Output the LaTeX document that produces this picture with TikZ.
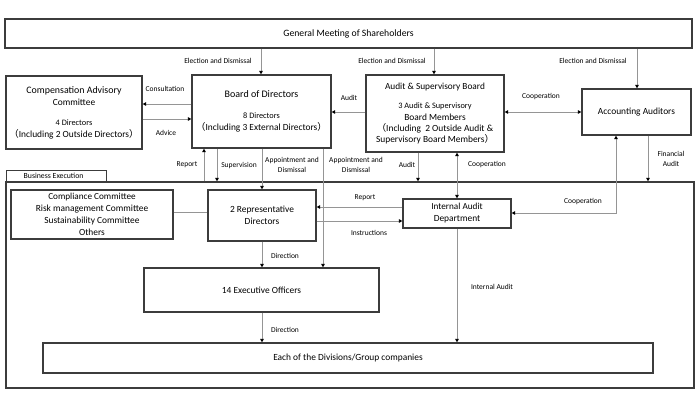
\documentclass[tikz,border=0pt]{standalone}
\usepackage{fontspec}
\setmainfont{Carlito}
\newfontfamily\cjkfont{Noto Sans CJK JP}
\usetikzlibrary{arrows.meta}
\definecolor{boxgray}{HTML}{3C3C3C}
\definecolor{linegray}{HTML}{959595}
\newcommand\lpar{\smash{\cjkfont （}}
\newcommand\rpar{\smash{\cjkfont ）}}
\newcommand\titlefnt{\fontsize{9.4}{12}\selectfont}
\newcommand\subfnt{\fontsize{8.3}{11}\selectfont}
\tikzset{
  >={Triangle[length=3.6pt,width=3.6pt,black]},
  box/.style={draw=boxgray, line width=1.2pt, inner sep=0pt, align=center, font=\titlefnt},
  conn/.style={draw=linegray, line width=1pt, ->},
  conn2/.style={draw=linegray, line width=1pt, <->},
  plain/.style={draw=linegray, line width=1pt},
  lbl/.style={font=\fontsize{7.5}{9.5}\selectfont, inner sep=0pt, align=center},
}
\begin{document}
\begin{tikzpicture}[x=1pt,y=-1pt]
\useasboundingbox (0,0) rectangle (700,405);
% frame
\node[box, minimum width=688pt, minimum height=206pt] (be) at (350,285) {};
\node[box, minimum width=100pt, minimum height=11pt, anchor=south west, font=\fontsize{7.8}{9}\selectfont] (tab) at (6,182) {\hspace*{-6pt}Business Execution};
% boxes
\node[box, minimum width=687pt, minimum height=29pt, font=\fontsize{9.7}{11}\selectfont] (gm) at (348.5,33.5) {General Meeting of Shareholders};
\node[box, minimum width=136pt, minimum height=73pt] (comp) at (74,112.5)
  {\fontsize{9.9}{12}\selectfont Compensation Advisory\\Committee\\[8pt]\fontsize{8.3}{12}\selectfont 4 Directors\\\lpar Including 2 Outside Directors\rpar};
\node[box, minimum width=139pt, minimum height=73pt] (bod) at (261.5,111.5)
  {\fontsize{10}{11}\selectfont Board of Directors\\[9pt]\subfnt 8 Directors\\\lpar Including 3 External Directors\rpar};
\node[box, minimum width=138pt, minimum height=77pt] (asb) at (435,113.5)
  {\fontsize{9.3}{10}\selectfont Audit \& Supervisory Board\\[7pt]\fontsize{8.3}{10}\selectfont 3 Audit \& Supervisory\\Board Members\\[-1pt]\lpar Including\ \ 2 Outside Audit \&\\[-1pt]Supervisory Board Members\rpar};
\node[box, minimum width=109pt, minimum height=46pt] (aa) at (636.5,112) {Accounting Auditors};
\node[box, minimum width=162pt, minimum height=49pt] (comm) at (92,214.5)
  {\fontsize{9.2}{11.3}\selectfont Compliance Committee\\Risk management Committee\\Sustainability Committee\\Others};
\node[box, minimum width=108pt, minimum height=51pt] (rep) at (262,215.5) {2 Representative\\Directors};
\node[box, minimum width=108pt, minimum height=29pt] (iad) at (457,213.5) {\fontsize{9.2}{13.5}\selectfont Internal Audit\\Department};
\node[box, minimum width=235pt, minimum height=44pt] (eo) at (261.5,290) {14 Executive Officers};
\node[box, minimum width=610pt, minimum height=30pt] (div) at (348,358) {Each of the Divisions/Group companies};
% connectors
\draw[conn] (gm.south -| 261,0) -- (bod.north -| 261,0);
\draw[conn] (gm.south -| 434,0) -- (asb.north -| 434,0);
\draw[conn] (gm.south -| 637,0) -- (aa.north -| 637,0);
\draw[conn] (bod.west |- 0,104) -- (comp.east |- 0,104);
\draw[conn] (comp.east |- 0,119) -- (bod.west |- 0,119);
\draw[conn] (asb.west |- 0,112) -- (bod.east |- 0,112);
\draw[conn2] (asb.east |- 0,112) -- (aa.west |- 0,112);
\draw[conn] (be.north -| 204,0) -- (bod.south -| 204,0);
\draw[conn] (bod.south -| 217,0) -- (be.north -| 217,0);
\draw[conn] (bod.south -| 262,0) -- (rep.north -| 262,0);
\draw[conn] (bod.south -| 323,0) -- (eo.north -| 323,0);
\draw[conn] (asb.south -| 418,0) -- (be.north -| 418,0);
\draw[conn2] (asb.south -| 457,0) -- (iad.north -| 457,0);
\draw[conn] (aa.south -| 648,0) -- (be.north -| 648,0);
\draw[conn2] (iad.east |- 0,213) -- (616,213) -- (aa.south -| 616,0);
\draw[conn] (iad.west |- 0,207) -- (rep.east |- 0,207);
\draw[conn] (rep.east |- 0,221) -- (iad.west |- 0,221);
\draw[plain] (comm.east |- 0,212) -- (rep.west |- 0,212);
\draw[conn] (rep.south -| 262,0) -- (eo.north -| 262,0);
\draw[conn] (eo.south -| 262,0) -- (div.north -| 262,0);
\draw[conn] (iad.south -| 457,0) -- (div.north -| 457,0);
% labels
\node[lbl] (l1) at (218,61) {Election and Dismissal};
\node[lbl] (l2) at (392,61) {Election and Dismissal};
\node[lbl] (l3) at (593,61) {Election and Dismissal};
\node[lbl] (l4) at (165,89) {Consultation};
\node[lbl] (l5) at (166,133) {Advice};
\node[lbl] (l6) at (349,98) {Audit};
\node[lbl] (l7) at (541,97) {Cooperation};
\node[lbl] (l8) at (187,165) {Report};
\node[lbl] (l9) at (239,166) {Supervision};
\node[lbl] (l10) at (292,165) {Appointment and\\Dismissal};
\node[lbl] (l11) at (356,165) {Appointment and\\Dismissal};
\node[lbl] (l12) at (407,165) {Audit};
\node[lbl] (l13) at (487,165) {Cooperation};
\node[lbl] (l14) at (671,159) {Financial\\Audit};
\node[lbl] (l15) at (365,198) {Report};
\node[lbl] (l16) at (369,233) {Instructions};
\node[lbl] (l17) at (583,202) {Cooperation};
\node[lbl] (l18) at (285,256) {Direction};
\node[lbl] (l19) at (285,330) {Direction};
\node[lbl] (l20) at (492,287) {Internal Audit};
\end{tikzpicture}
\end{document}
